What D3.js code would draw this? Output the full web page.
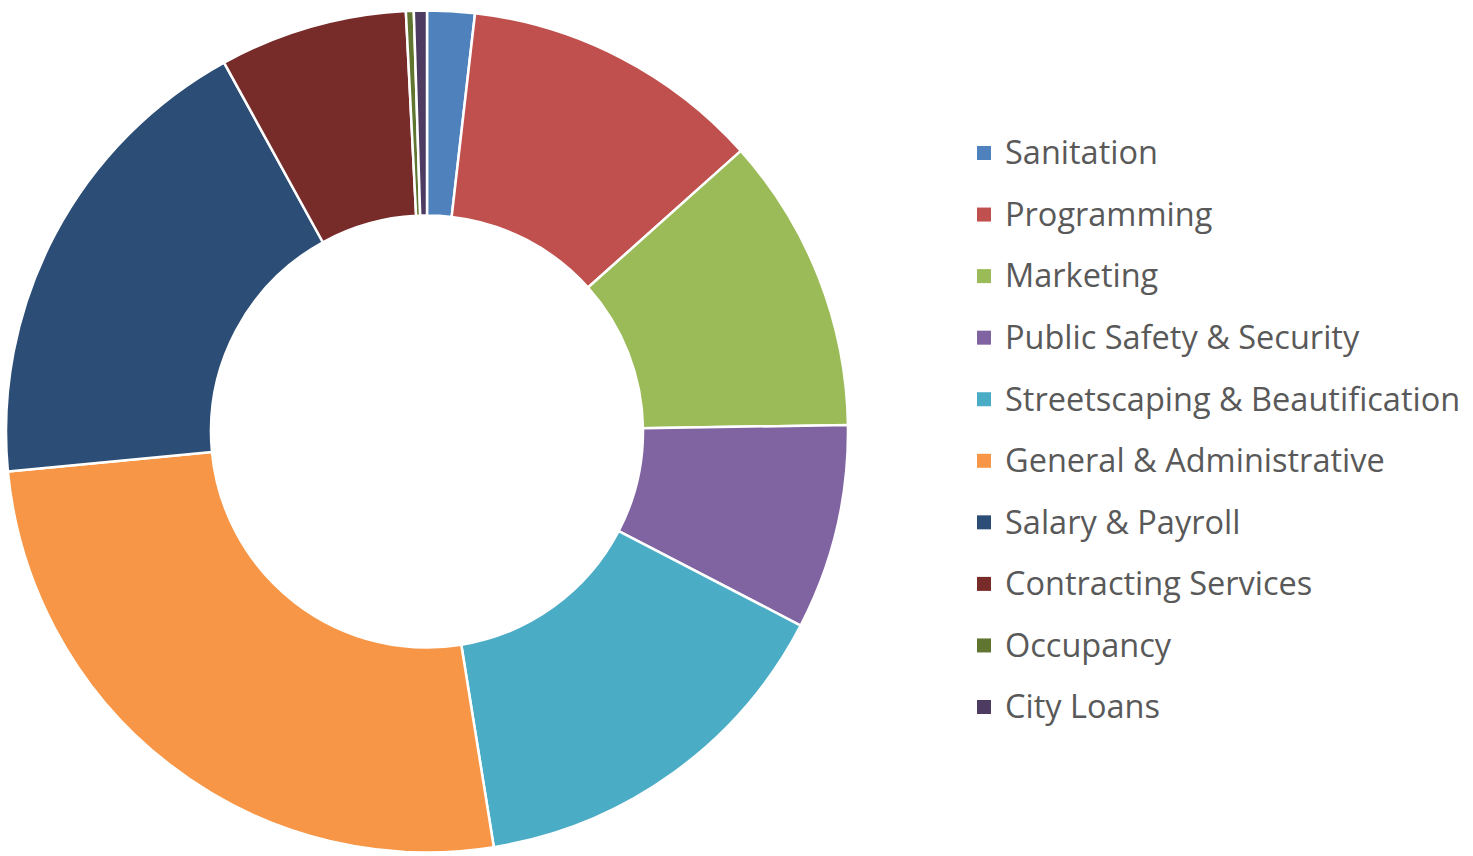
<!DOCTYPE html>
<html>
<head>
<meta charset="utf-8">
<script src="https://cdn.jsdelivr.net/npm/d3@7"></script>
<style>
  body { margin: 0; background: #fff; }
  svg { display: block; }
</style>
</head>
<body>
<svg id="chart" width="1473" height="856"></svg>
<script>
// budget share by category (percent)
var categories = ["Sanitation", "Programming", "Marketing", "Public Safety & Security",
  "Streetscaping & Beautification", "General & Administrative", "Salary & Payroll",
  "Contracting Services", "Occupancy", "City Loans"];
var shares = [1.82, 11.56, 11.36, 7.86, 14.83, 26.0, 18.5, 7.2, 0.3, 0.5];
var colors = ["#4F81BD", "#C0504D", "#9BBB59", "#8064A2", "#4BACC6",
  "#F79646", "#2C4D75", "#772C2A", "#5F7530", "#4D3B62"];

var data = categories.map(function(c, i){ return {name: c, value: shares[i]}; });

var svg = d3.select("#chart");
var cx = 427, cy = 431.5;
var outerR = 421, innerR = 216;

var color = d3.scaleOrdinal().domain(categories).range(colors);

var pie = d3.pie().sort(null).value(function(d){ return d.value; });
var arc = d3.arc().innerRadius(innerR).outerRadius(outerR);

var g = svg.append("g").attr("transform", "translate(" + cx + "," + cy + ")");
g.selectAll("path")
  .data(pie(data))
  .enter().append("path")
  .attr("d", arc)
  .attr("fill", function(d){ return color(d.data.name); })
  .attr("stroke", "#fff")
  .attr("stroke-width", 2.5)
  .attr("stroke-linejoin", "round");

// legend
var legY = d3.scalePoint().domain(categories).range([153, 707]);
var leg = svg.append("g").selectAll("g")
  .data(categories)
  .enter().append("g")
  .attr("transform", function(d){ return "translate(977," + legY(d) + ")"; });
leg.append("rect")
  .attr("x", 0).attr("y", -7)
  .attr("width", 14).attr("height", 14)
  .attr("fill", function(d){ return color(d); });
leg.append("text")
  .attr("x", 28).attr("y", 0)
  .attr("dy", "0.35em")
  .attr("fill", "#595959")
  .style("font-family", "'Open Sans', 'Noto Sans', sans-serif")
  .style("font-size", "32.5px")
  .text(function(d){ return d; });
</script>
</body>
</html>
